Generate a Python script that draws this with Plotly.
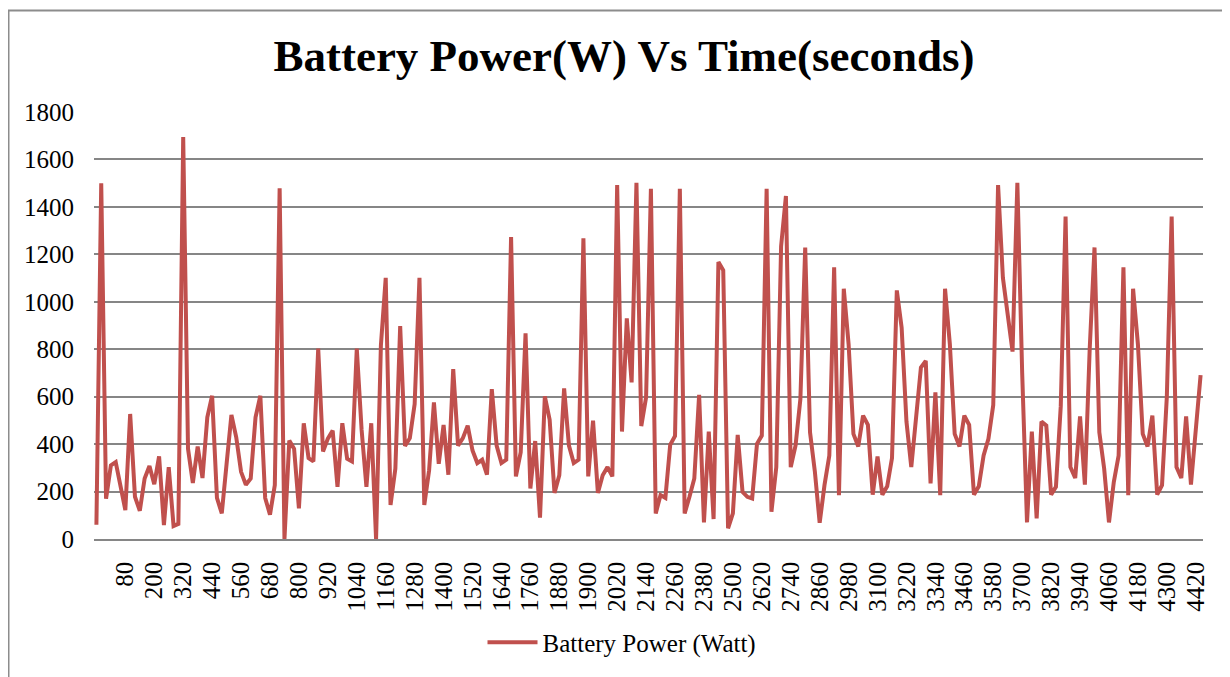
import plotly.graph_objects as go

battery_power = [
    60, 1500, 170, 310, 324, 226, 122, 527, 178, 119,
    255, 308, 231, 348, 59, 303, 55, 64, 1695, 380,
    236, 390, 257, 513, 604, 173, 108, 317, 523, 429,
    283, 229, 255, 513, 604, 173, 103, 227, 1478, 0,
    415, 380, 129, 488, 341, 327, 803, 369, 423, 457,
    220, 488, 338, 327, 803, 460, 220, 488, 0, 815,
    1101, 143, 297, 898, 392, 425, 569, 1101, 143, 290,
    576, 317, 481, 271, 716, 394, 425, 478, 373, 320,
    334, 271, 632, 394, 320, 334, 1273, 264, 366, 867,
    213, 413, 90, 601, 503, 194, 269, 635, 394, 320,
    334, 1268, 264, 499, 194, 269, 303, 264, 1492, 453,
    930, 660, 1502, 476, 597, 1476, 108, 185, 173, 397,
    434, 1476, 108, 178, 255, 608, 70, 453, 84, 1168,
    1133, 45, 108, 439, 199, 178, 171, 401, 436, 1476,
    115, 303, 1234, 1446, 303, 394, 590, 1229, 450, 285,
    68, 227, 352, 1145, 185, 1055, 821, 443, 390, 520,
    481, 187, 348, 187, 222, 341, 1048, 891, 495, 303,
    513, 723, 751, 234, 618, 185, 1055, 821, 443, 390,
    520, 481, 187, 222, 352, 422, 565, 1492, 1101, 940,
    790, 1502, 700, 70, 453, 87, 495, 478, 187, 220,
    560, 1359, 303, 257, 517, 229, 800, 1229, 450, 297,
    70, 240, 352, 1145, 185, 1055, 821, 443, 390, 520,
    187, 227, 600, 1359, 303, 257, 517, 229, 460, 691,
]

# Time labels (seconds) shown on the category axis, every 6th category
time_labels = [
    "80", "200", "320", "440", "560", "680", "800", "920", "1040", "1160",
    "1280", "1400", "1520", "1640", "1760", "1880", "1900", "2020", "2140", "2260",
    "2380", "2500", "2620", "2740", "2860", "2980", "3100", "3220", "3340", "3460",
    "3580", "3700", "3820", "3940", "4060", "4180", "4300", "4420",
]
label_interval = 6

y_ticks = [0, 200, 400, 600, 800, 1000, 1200, 1400, 1600, 1800]

series_name = "Battery Power (Watt)"
chart_title = "Battery Power(W) Vs Time(seconds)"

n = len(battery_power)
sample = list(range(n))
tick_positions = [label_interval * (k + 1) for k in range(len(time_labels))]

# The page body adds an 8px offset, so the figure is sized to fill the rest
OFF = 8
W, H = 1230 - OFF, 677 - OFF
ML, MR, MT, MB = 94 - OFF, 27, 112 - OFF, 136
PW, PH = W - ML - MR, H - MT - MB


def px_x(px):
    return (px - OFF - ML) / PW


def px_y(py):
    return 1 - (py - OFF - MT) / PH


FONT = "Liberation Serif, Times New Roman, serif"
GRID = "#868686"

fig = go.Figure()
fig.add_trace(go.Scatter(
    x=sample, y=battery_power, mode="lines", name=series_name,
    line=dict(color="#C0504D", width=4),
    showlegend=True,
))

fig.update_layout(
    width=W, height=H,
    margin=dict(l=ML, r=MR, t=MT, b=MB),
    paper_bgcolor="white", plot_bgcolor="white",
    font=dict(family=FONT, size=25, color="black"),
    title=dict(
        text="<b>" + chart_title + "</b>",
        xref="container", x=(624 - OFF) / W, xanchor="center",
        yref="container", y=1 - 47 / H, yanchor="middle",
        font=dict(family=FONT, size=45, color="black"),
    ),
    xaxis=dict(
        range=[-0.5, n - 0.5],
        tickmode="array", tickvals=tick_positions, ticktext=time_labels,
        tickangle=-90, ticks="", showgrid=False, zeroline=False,
        showline=True, linecolor=GRID, linewidth=1.5,
        tickfont=dict(family=FONT, size=25, color="black"),
        ticklabelstandoff=11,
    ),
    yaxis=dict(
        range=[0, 1800], tickmode="array", tickvals=y_ticks,
        showgrid=True, gridcolor=GRID, gridwidth=1.5,
        zeroline=False, showline=False, ticks="",
        tickfont=dict(family=FONT, size=25, color="black"),
        ticklabelstandoff=19,
    ),
    legend=dict(
        orientation="h", x=px_x(622), xanchor="center",
        y=px_y(645), yanchor="middle",
        font=dict(family=FONT, size=25, color="black"),
        bgcolor="rgba(0,0,0,0)", itemwidth=50,
    ),
    shapes=[dict(
        type="rect", xref="paper", yref="paper",
        x0=px_x(OFF + 0.5), x1=px_x(1260), y0=px_y(10), y1=px_y(700),
        line=dict(color="#8c8c8c", width=2), fillcolor="rgba(0,0,0,0)",
        layer="below",
    )],
)

fig.write_html("out.html")
